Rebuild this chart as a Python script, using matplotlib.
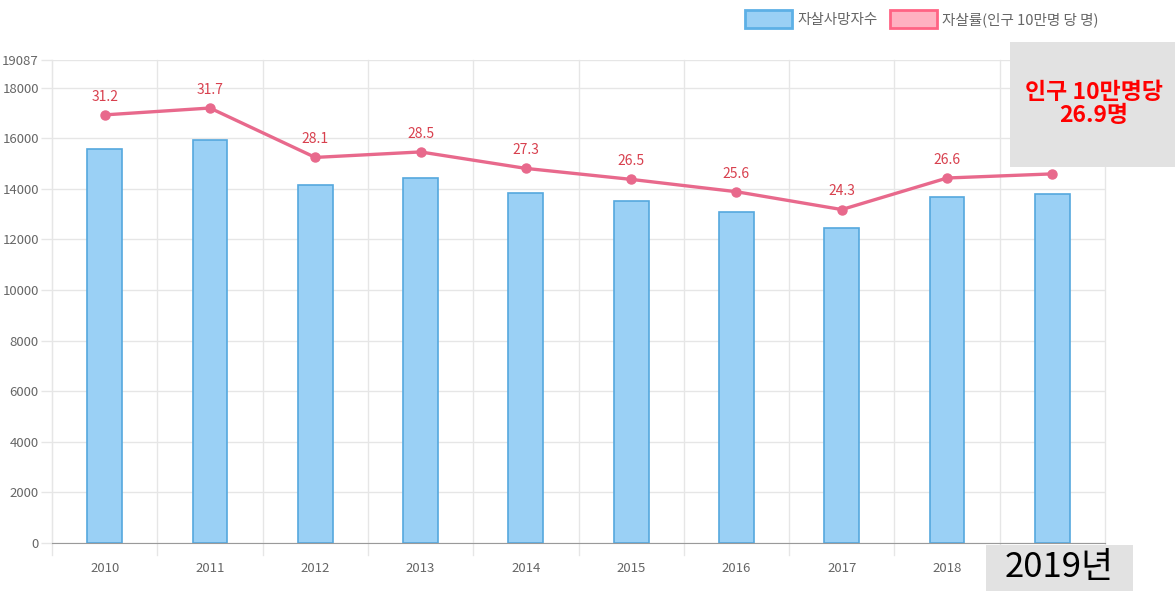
import matplotlib.pyplot as plt
from matplotlib.patches import Patch, Rectangle

plt.rcParams['font.family'] = ['Noto Sans CJK KR', 'DejaVu Sans']

years = ['2010', '2011', '2012', '2013', '2014', '2015', '2016', '2017', '2018', '2019']
deaths = [15566, 15906, 14160, 14427, 13836, 13513, 13092, 12463, 13670, 13799]
rates = [31.2, 31.7, 28.1, 28.5, 27.3, 26.5, 25.6, 24.3, 26.6, 26.9]
yticks = [0, 2000, 4000, 6000, 8000, 10000, 12000, 14000, 16000, 18000, 19087]

bar_fill = '#9AD0F5'
bar_edge = '#55A8DE'
line_col = '#E8698C'
label_col = '#D8404E'
tick_col = '#666666'
grid_col = '#E6E6E6'


def draw():
    fig = plt.figure(figsize=(11.75, 5.91), dpi=100)
    ax = fig.add_axes([52 / 1175, 48 / 591, 1053 / 1175, 483 / 591])
    x = list(range(len(years)))

    ax.bar(x, deaths, width=0.33, color=bar_fill, edgecolor=bar_edge, linewidth=1.2, zorder=2)
    ax.set_xlim(-0.5, len(years) - 0.5)
    ax.set_ylim(0, 19087)
    ax.set_yticks(yticks)
    ax.set_yticklabels([str(t) for t in yticks])
    ax.set_xticks(x)
    ax.set_xticklabels(years)
    ax.tick_params(axis='y', colors=grid_col, labelcolor=tick_col, labelsize=9.5,
                   length=8, width=1, pad=1.5)
    ax.tick_params(axis='x', length=0, labelcolor=tick_col, labelsize=9.5, pad=14)
    ax.grid(axis='y', color=grid_col, linewidth=1, zorder=0)

    # category separators run a little below the axis
    for b in range(len(years) + 1):
        ax.plot([b - 0.5, b - 0.5], [-480, 19087], color=grid_col, linewidth=1,
                clip_on=False, zorder=0)

    for s in ['top', 'right']:
        ax.spines[s].set_visible(False)
    ax.spines['left'].set_color(grid_col)
    ax.spines['bottom'].set_color('#9A9A9A')

    ax2 = ax.twinx()
    ax2.plot(x, rates, color=line_col, linewidth=2.4, marker='o', markersize=6.5,
             markerfacecolor=line_col, markeredgecolor=line_col, zorder=3)
    ax2.set_ylim(0, 35.2)
    ax2.axis('off')
    for xi, r in zip(x, rates):
        ax2.annotate(f'{r}', (xi, r), xytext=(0, 8), textcoords='offset points',
                     ha='center', va='bottom', color=label_col, fontsize=10)

    handles = [Patch(facecolor=bar_fill, edgecolor='#5DB0E6', linewidth=2),
               Patch(facecolor='#FFB1C1', edgecolor='#FF6384', linewidth=2)]
    fig.legend(handles, ['자살사망자수', '자살률(인구 10만명 당 명)'], ncol=2,
               loc='upper right', bbox_to_anchor=(1112 / 1175, 1.005), frameon=False,
               handlelength=3.2, handleheight=1.5, columnspacing=0.8, handletextpad=0.4,
               labelcolor=tick_col, fontsize=10.5)

    # highlight boxes
    fig.patches.append(Rectangle((1010 / 1175, 1 - 167 / 591), 165 / 1175, 125 / 591,
                                 transform=fig.transFigure, facecolor='#E2E2E2',
                                 edgecolor='none', zorder=5))
    fig.text(1094 / 1175, 1 - 104 / 591, '인구 10만명당\n26.9명', ha='center', va='center',
             color='#FF0000', fontsize=16.5, fontweight='bold', linespacing=1.05, zorder=6)
    fig.patches.append(Rectangle((986 / 1175, 0), 147 / 1175, 46 / 591,
                                 transform=fig.transFigure, facecolor='#E2E2E2',
                                 edgecolor='none', zorder=5))
    fig.text(1059 / 1175, 24 / 591, '2019년', ha='center', va='center',
             color='black', fontsize=25, zorder=6)

    fig.savefig('out.png', dpi=100)


def main():
    draw()


if __name__ == '__main__':
    main()
